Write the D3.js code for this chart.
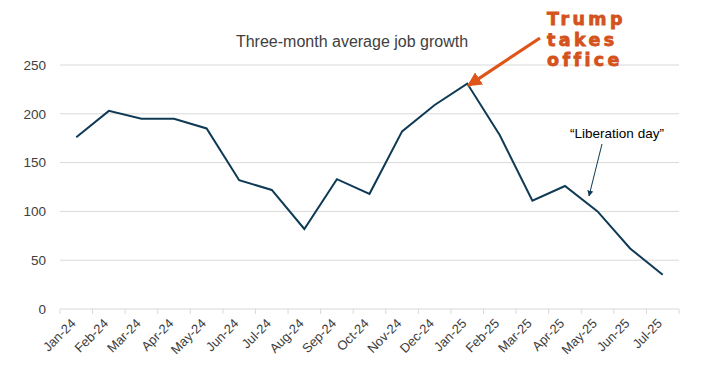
<!DOCTYPE html>
<html><head><meta charset="utf-8">
<script src="https://cdn.jsdelivr.net/npm/d3@7"></script>
<style>body{margin:0;background:#fff}svg{display:block}</style>
</head><body>
<svg id="c" width="706" height="382"></svg>
<script>
const categories = ["Jan-24","Feb-24","Mar-24","Apr-24","May-24","Jun-24","Jul-24","Aug-24","Sep-24","Oct-24","Nov-24","Dec-24","Jan-25","Feb-25","Mar-25","Apr-25","May-25","Jun-25","Jul-25"];
const values = [176, 203, 195, 195, 185, 132, 122, 82, 133, 118, 182, 209, 231, 178, 111, 126, 100, 62, 35];
const yTicks = [0, 50, 100, 150, 200, 250];
const title = "Three-month average job growth";

const svg = d3.select("#c");
const m = {l:60, r:27, t:65, b:73};
const W = 706, H = 382;
const x = d3.scaleBand().domain(categories).range([m.l, W - m.r]);
const y = d3.scaleLinear().domain([0, 250]).range([H - m.b, m.t]);
const font = "'Liberation Sans', Arial, sans-serif";

// gridlines
svg.append("g").selectAll("line").data(yTicks.filter(d=>d>0)).join("line")
  .attr("x1", m.l).attr("x2", W - m.r)
  .attr("y1", d=>y(d)).attr("y2", d=>y(d))
  .attr("stroke", "#d9d9d9").attr("stroke-width", 1);

// y axis labels
svg.append("g").selectAll("text").data(yTicks).join("text")
  .attr("x", 46).attr("y", d=>y(d)).attr("dy", "0.35em")
  .attr("text-anchor", "end").attr("font-family", font).attr("font-size", 13.5)
  .attr("fill", "#404040").text(d=>d);

// x axis
const xa = svg.append("g").attr("transform", `translate(0,${y(0)})`);
xa.append("line").attr("x1", m.l).attr("x2", W - m.r).attr("stroke", "#d9d9d9");
const bounds = categories.map(c => x(c)).concat([x(categories[categories.length-1]) + x.bandwidth()]);
xa.selectAll("line.t").data(bounds).join("line").attr("class","t")
  .attr("x1", d=>d).attr("x2", d=>d).attr("y1", 0).attr("y2", 5)
  .attr("stroke", "#d9d9d9");
xa.selectAll("text").data(categories).join("text")
  .attr("transform", d=>`translate(${x(d) + x.bandwidth()/2 - 3},${12}) rotate(-45)`)
  .attr("text-anchor", "end").attr("dy", "0.35em")
  .attr("font-family", font).attr("font-size", 13).attr("fill", "#404040").text(d=>d);

// line
const line = d3.line().x((d,i)=>x(categories[i]) + x.bandwidth()/2).y(d=>y(d));
svg.append("path").datum(values).attr("d", line)
  .attr("fill", "none").attr("stroke", "#0f3a55").attr("stroke-width", 2)
  .attr("stroke-linejoin", "miter");

// title
svg.append("text").attr("x", 352).attr("y", 47).attr("text-anchor", "middle")
  .attr("font-family", font).attr("font-size", 16).attr("fill", "#404040").text(title);

// defs for arrows
const defs = svg.append("defs");
defs.append("marker").attr("id","ao").attr("viewBox","0 0 10 10").attr("refX",9).attr("refY",5)
  .attr("markerWidth",4.5).attr("markerHeight",4.5).attr("markerUnits","strokeWidth").attr("orient","auto")
  .append("path").attr("d","M0,0L10,5L0,10z").attr("fill","#e0541a");
defs.append("marker").attr("id","an").attr("viewBox","0 0 10 10").attr("refX",9).attr("refY",5)
  .attr("markerWidth",6).attr("markerHeight",6).attr("markerUnits","strokeWidth").attr("orient","auto")
  .append("path").attr("d","M0,0L10,5L0,10z").attr("fill","#0f3a55");

// Trump annotation
const tx = x("Jan-25") + x.bandwidth()/2;
svg.append("line").attr("x1", 540).attr("y1", 38).attr("x2", tx + 1).attr("y2", y(231) + 2)
  .attr("stroke", "#e0541a").attr("stroke-width", 3.2).attr("marker-end","url(#ao)");
["Trump","takes","office"].forEach((s,i)=>{
  svg.append("text").attr("x", 547).attr("y", 25 + i*20.5)
    .attr("font-family", "'DejaVu Sans', sans-serif").attr("font-weight", "bold")
    .attr("font-size", 17.5).attr("fill", "#d4521c").attr("stroke", "#d4521c").attr("stroke-width", 0.8)
    .attr("letter-spacing", 3.4).text(s);
});

// Liberation day annotation
svg.append("text").attr("x", 617).attr("y", 138).attr("text-anchor","middle")
  .attr("font-family", font).attr("font-size", 13.5).attr("fill", "#000").text("\u201CLiberation day\u201D");
svg.append("line").attr("x1", 602).attr("y1", 144).attr("x2", 589).attr("y2", 196)
  .attr("stroke", "#0f3a55").attr("stroke-width", 1).attr("marker-end","url(#an)");
</script>
</body></html>
